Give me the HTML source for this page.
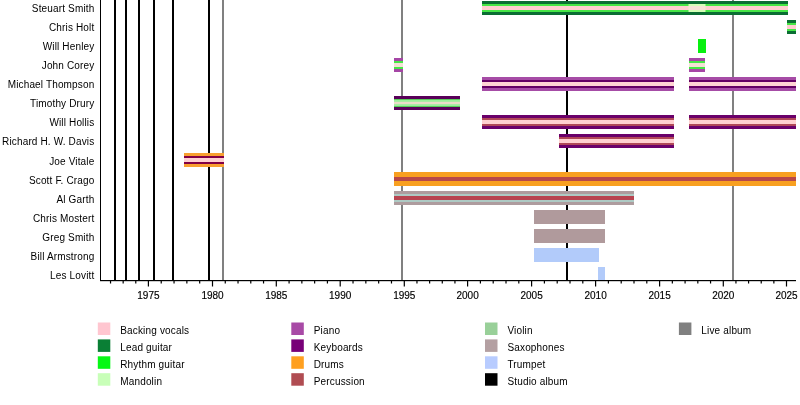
<!DOCTYPE html><html><head><meta charset="utf-8"><style>html,body{margin:0;padding:0;background:#fff;}svg{display:block;will-change:transform;}text{font-family:"Liberation Sans",sans-serif;fill:#000;}.ax{stroke:#000;stroke-width:0.15px;}</style></head><body>
<svg width="800" height="405" viewBox="0 0 800 405">
<rect width="800" height="405" fill="#fff"/>
<rect x="114" y="0" width="2" height="280" fill="#000000"/>
<rect x="125" y="0" width="2" height="280" fill="#000000"/>
<rect x="138" y="0" width="2" height="280" fill="#000000"/>
<rect x="153" y="0" width="2" height="280" fill="#000000"/>
<rect x="172" y="0" width="2" height="280" fill="#000000"/>
<rect x="208" y="0" width="2" height="280" fill="#000000"/>
<rect x="222" y="0" width="2" height="280" fill="#808080"/>
<rect x="401" y="0" width="2" height="280" fill="#808080"/>
<rect x="566" y="0" width="2" height="280" fill="#000000"/>
<rect x="732" y="0" width="2" height="280" fill="#808080"/>
<rect x="482" y="1" width="306" height="14" fill="#0b6d33"/>
<rect x="482" y="4" width="306" height="8" fill="#46e646"/>
<rect x="482" y="6" width="306" height="4" fill="#ffcdd0"/>
<rect x="688.5" y="4" width="17.0" height="8" fill="#d4ffb6"/>
<rect x="688.5" y="6" width="17.0" height="4" fill="#f6e2d6"/>
<rect x="787" y="20" width="9" height="14" fill="#0b6d33"/>
<rect x="787" y="23" width="9" height="8" fill="#46e646"/>
<rect x="787" y="25" width="9" height="4" fill="#ffcdd0"/>
<rect x="698" y="39" width="8" height="14" fill="#08f010"/>
<rect x="394" y="58" width="9" height="14" fill="#a646a6"/>
<rect x="394" y="61" width="9" height="8" fill="#46e646"/>
<rect x="394" y="63" width="9" height="4" fill="#f4e0d4"/>
<rect x="689" y="58" width="16" height="14" fill="#a646a6"/>
<rect x="689" y="61" width="16" height="8" fill="#46e646"/>
<rect x="689" y="63" width="16" height="4" fill="#f4e0d4"/>
<rect x="482" y="77" width="192" height="14" fill="#a64ca6"/>
<rect x="482" y="80" width="192" height="8" fill="#640064"/>
<rect x="482" y="82" width="192" height="4" fill="#ffd4d4"/>
<rect x="689" y="77" width="107" height="14" fill="#a64ca6"/>
<rect x="689" y="80" width="107" height="8" fill="#640064"/>
<rect x="689" y="82" width="107" height="4" fill="#ffd4d4"/>
<rect x="394" y="96" width="66" height="14" fill="#580058"/>
<rect x="394" y="99" width="66" height="8" fill="#58cc58"/>
<rect x="394" y="100" width="66" height="6" fill="#9cf09c"/>
<rect x="394" y="101.8" width="66" height="2.4" fill="#eadcc8"/>
<rect x="482" y="115" width="192" height="14" fill="#6a006a"/>
<rect x="482" y="118" width="192" height="8" fill="#b04858"/>
<rect x="482" y="120" width="192" height="4" fill="#ffd0d0"/>
<rect x="689" y="115" width="107" height="14" fill="#6a006a"/>
<rect x="689" y="118" width="107" height="8" fill="#b04858"/>
<rect x="689" y="120" width="107" height="4" fill="#ffd0d0"/>
<rect x="559" y="134" width="115" height="14" fill="#6a006a"/>
<rect x="559" y="137" width="115" height="8" fill="#b04858"/>
<rect x="559" y="139" width="115" height="4" fill="#ffd0d0"/>
<rect x="184" y="153" width="40" height="14" fill="#f8a030"/>
<rect x="184" y="156" width="40" height="8" fill="#820045"/>
<rect x="184" y="158" width="40" height="4" fill="#ffd0d0"/>
<rect x="394" y="172" width="402" height="14" fill="#f8a020"/>
<rect x="394" y="177" width="402" height="4" fill="#b84848"/>
<rect x="394" y="191" width="240" height="14" fill="#ae9c9e"/>
<rect x="394" y="194" width="240" height="8" fill="#aecac4"/>
<rect x="394" y="196" width="240" height="4" fill="#b84450"/>
<rect x="534" y="210" width="71" height="14" fill="#b09a9c"/>
<rect x="534" y="229" width="71" height="14" fill="#b09a9c"/>
<rect x="534" y="248" width="65" height="14" fill="#b2cbfa"/>
<rect x="598" y="267" width="7" height="14" fill="#b2cbfa"/>
<rect x="100" y="0" width="1" height="281" fill="#000"/>
<rect x="100" y="280" width="696" height="1.2" fill="#000"/>
<rect x="147.80" y="280" width="1.2" height="6.5" fill="#000"/>
<rect x="160.62" y="280" width="1.2" height="3.5" fill="#000"/>
<rect x="173.44" y="280" width="1.2" height="3.5" fill="#000"/>
<rect x="186.26" y="280" width="1.2" height="3.5" fill="#000"/>
<rect x="199.08" y="280" width="1.2" height="3.5" fill="#000"/>
<rect x="211.90" y="280" width="1.2" height="6.5" fill="#000"/>
<rect x="224.66" y="280" width="1.2" height="3.5" fill="#000"/>
<rect x="237.42" y="280" width="1.2" height="3.5" fill="#000"/>
<rect x="250.18" y="280" width="1.2" height="3.5" fill="#000"/>
<rect x="262.94" y="280" width="1.2" height="3.5" fill="#000"/>
<rect x="275.70" y="280" width="1.2" height="6.5" fill="#000"/>
<rect x="288.48" y="280" width="1.2" height="3.5" fill="#000"/>
<rect x="301.26" y="280" width="1.2" height="3.5" fill="#000"/>
<rect x="314.04" y="280" width="1.2" height="3.5" fill="#000"/>
<rect x="326.82" y="280" width="1.2" height="3.5" fill="#000"/>
<rect x="339.60" y="280" width="1.2" height="6.5" fill="#000"/>
<rect x="352.42" y="280" width="1.2" height="3.5" fill="#000"/>
<rect x="365.24" y="280" width="1.2" height="3.5" fill="#000"/>
<rect x="378.06" y="280" width="1.2" height="3.5" fill="#000"/>
<rect x="390.88" y="280" width="1.2" height="3.5" fill="#000"/>
<rect x="403.70" y="280" width="1.2" height="6.5" fill="#000"/>
<rect x="416.36" y="280" width="1.2" height="3.5" fill="#000"/>
<rect x="429.02" y="280" width="1.2" height="3.5" fill="#000"/>
<rect x="441.68" y="280" width="1.2" height="3.5" fill="#000"/>
<rect x="454.34" y="280" width="1.2" height="3.5" fill="#000"/>
<rect x="467.00" y="280" width="1.2" height="6.5" fill="#000"/>
<rect x="479.80" y="280" width="1.2" height="3.5" fill="#000"/>
<rect x="492.60" y="280" width="1.2" height="3.5" fill="#000"/>
<rect x="505.40" y="280" width="1.2" height="3.5" fill="#000"/>
<rect x="518.20" y="280" width="1.2" height="3.5" fill="#000"/>
<rect x="531.00" y="280" width="1.2" height="6.5" fill="#000"/>
<rect x="543.80" y="280" width="1.2" height="3.5" fill="#000"/>
<rect x="556.60" y="280" width="1.2" height="3.5" fill="#000"/>
<rect x="569.40" y="280" width="1.2" height="3.5" fill="#000"/>
<rect x="582.20" y="280" width="1.2" height="3.5" fill="#000"/>
<rect x="595.00" y="280" width="1.2" height="6.5" fill="#000"/>
<rect x="607.80" y="280" width="1.2" height="3.5" fill="#000"/>
<rect x="620.60" y="280" width="1.2" height="3.5" fill="#000"/>
<rect x="633.40" y="280" width="1.2" height="3.5" fill="#000"/>
<rect x="646.20" y="280" width="1.2" height="3.5" fill="#000"/>
<rect x="659.00" y="280" width="1.2" height="6.5" fill="#000"/>
<rect x="671.74" y="280" width="1.2" height="3.5" fill="#000"/>
<rect x="684.48" y="280" width="1.2" height="3.5" fill="#000"/>
<rect x="697.22" y="280" width="1.2" height="3.5" fill="#000"/>
<rect x="709.96" y="280" width="1.2" height="3.5" fill="#000"/>
<rect x="722.70" y="280" width="1.2" height="6.5" fill="#000"/>
<rect x="735.34" y="280" width="1.2" height="3.5" fill="#000"/>
<rect x="747.98" y="280" width="1.2" height="3.5" fill="#000"/>
<rect x="760.62" y="280" width="1.2" height="3.5" fill="#000"/>
<rect x="773.26" y="280" width="1.2" height="3.5" fill="#000"/>
<rect x="785.90" y="280" width="1.2" height="6.5" fill="#000"/>
<rect x="109.94" y="280" width="1.2" height="3.5" fill="#000"/>
<rect x="122.56" y="280" width="1.2" height="3.5" fill="#000"/>
<rect x="135.18" y="280" width="1.2" height="3.5" fill="#000"/>
<text x="94.4" y="12.20" font-size="10" letter-spacing="0.15" text-anchor="end">Steuart Smith</text>
<text x="94.4" y="31.24" font-size="10" letter-spacing="0.15" text-anchor="end">Chris Holt</text>
<text x="94.4" y="50.28" font-size="10" letter-spacing="0.15" text-anchor="end">Will Henley</text>
<text x="94.4" y="69.32" font-size="10" letter-spacing="0.15" text-anchor="end">John Corey</text>
<text x="94.4" y="88.36" font-size="10" letter-spacing="0.15" text-anchor="end">Michael Thompson</text>
<text x="94.4" y="107.40" font-size="10" letter-spacing="0.15" text-anchor="end">Timothy Drury</text>
<text x="94.4" y="126.44" font-size="10" letter-spacing="0.15" text-anchor="end">Will Hollis</text>
<text x="94.4" y="145.48" font-size="10" letter-spacing="0.15" text-anchor="end">Richard H. W. Davis</text>
<text x="94.4" y="164.52" font-size="10" letter-spacing="0.15" text-anchor="end">Joe Vitale</text>
<text x="94.4" y="183.56" font-size="10" letter-spacing="0.15" text-anchor="end">Scott F. Crago</text>
<text x="94.4" y="202.60" font-size="10" letter-spacing="0.15" text-anchor="end">Al Garth</text>
<text x="94.4" y="221.64" font-size="10" letter-spacing="0.15" text-anchor="end">Chris Mostert</text>
<text x="94.4" y="240.68" font-size="10" letter-spacing="0.15" text-anchor="end">Greg Smith</text>
<text x="94.4" y="259.72" font-size="10" letter-spacing="0.15" text-anchor="end">Bill Armstrong</text>
<text x="94.4" y="278.76" font-size="10" letter-spacing="0.15" text-anchor="end">Les Lovitt</text>
<text class="ax" x="148.4" y="298.8" font-size="10" text-anchor="middle">1975</text>
<text class="ax" x="212.5" y="298.8" font-size="10" text-anchor="middle">1980</text>
<text class="ax" x="276.3" y="298.8" font-size="10" text-anchor="middle">1985</text>
<text class="ax" x="340.2" y="298.8" font-size="10" text-anchor="middle">1990</text>
<text class="ax" x="404.3" y="298.8" font-size="10" text-anchor="middle">1995</text>
<text class="ax" x="467.6" y="298.8" font-size="10" text-anchor="middle">2000</text>
<text class="ax" x="531.6" y="298.8" font-size="10" text-anchor="middle">2005</text>
<text class="ax" x="595.6" y="298.8" font-size="10" text-anchor="middle">2010</text>
<text class="ax" x="659.6" y="298.8" font-size="10" text-anchor="middle">2015</text>
<text class="ax" x="723.3" y="298.8" font-size="10" text-anchor="middle">2020</text>
<text class="ax" x="786.5" y="298.8" font-size="10" text-anchor="middle">2025</text>
<rect x="97.8" y="322.5" width="12.5" height="12.5" fill="#ffc6d0"/>
<text x="120.2" y="333.9" font-size="10" letter-spacing="0.17">Backing vocals</text>
<rect x="97.8" y="339.4" width="12.5" height="12.5" fill="#0a7f35"/>
<text x="120.2" y="350.8" font-size="10" letter-spacing="0.17">Lead guitar</text>
<rect x="97.8" y="356.3" width="12.5" height="12.5" fill="#06f815"/>
<text x="120.2" y="367.7" font-size="10" letter-spacing="0.17">Rhythm guitar</text>
<rect x="97.8" y="373.2" width="12.5" height="12.5" fill="#c8ffb8"/>
<text x="120.2" y="384.6" font-size="10" letter-spacing="0.17">Mandolin</text>
<rect x="291.3" y="322.5" width="12.5" height="12.5" fill="#a84aa6"/>
<text x="313.7" y="333.9" font-size="10" letter-spacing="0.17">Piano</text>
<rect x="291.3" y="339.4" width="12.5" height="12.5" fill="#780078"/>
<text x="313.7" y="350.8" font-size="10" letter-spacing="0.17">Keyboards</text>
<rect x="291.3" y="356.3" width="12.5" height="12.5" fill="#ffa020"/>
<text x="313.7" y="367.7" font-size="10" letter-spacing="0.17">Drums</text>
<rect x="291.3" y="373.2" width="12.5" height="12.5" fill="#b04c52"/>
<text x="313.7" y="384.6" font-size="10" letter-spacing="0.17">Percussion</text>
<rect x="485.0" y="322.5" width="12.5" height="12.5" fill="#99d099"/>
<text x="507.4" y="333.9" font-size="10" letter-spacing="0.17">Violin</text>
<rect x="485.0" y="339.4" width="12.5" height="12.5" fill="#b4a0a2"/>
<text x="507.4" y="350.8" font-size="10" letter-spacing="0.17">Saxophones</text>
<rect x="485.0" y="356.3" width="12.5" height="12.5" fill="#b8ccff"/>
<text x="507.4" y="367.7" font-size="10" letter-spacing="0.17">Trumpet</text>
<rect x="485.0" y="373.2" width="12.5" height="12.5" fill="#000000"/>
<text x="507.4" y="384.6" font-size="10" letter-spacing="0.17">Studio album</text>
<rect x="678.9" y="322.5" width="12.5" height="12.5" fill="#808080"/>
<text x="701.3" y="333.9" font-size="10" letter-spacing="0.17">Live album</text>
</svg></body></html>
